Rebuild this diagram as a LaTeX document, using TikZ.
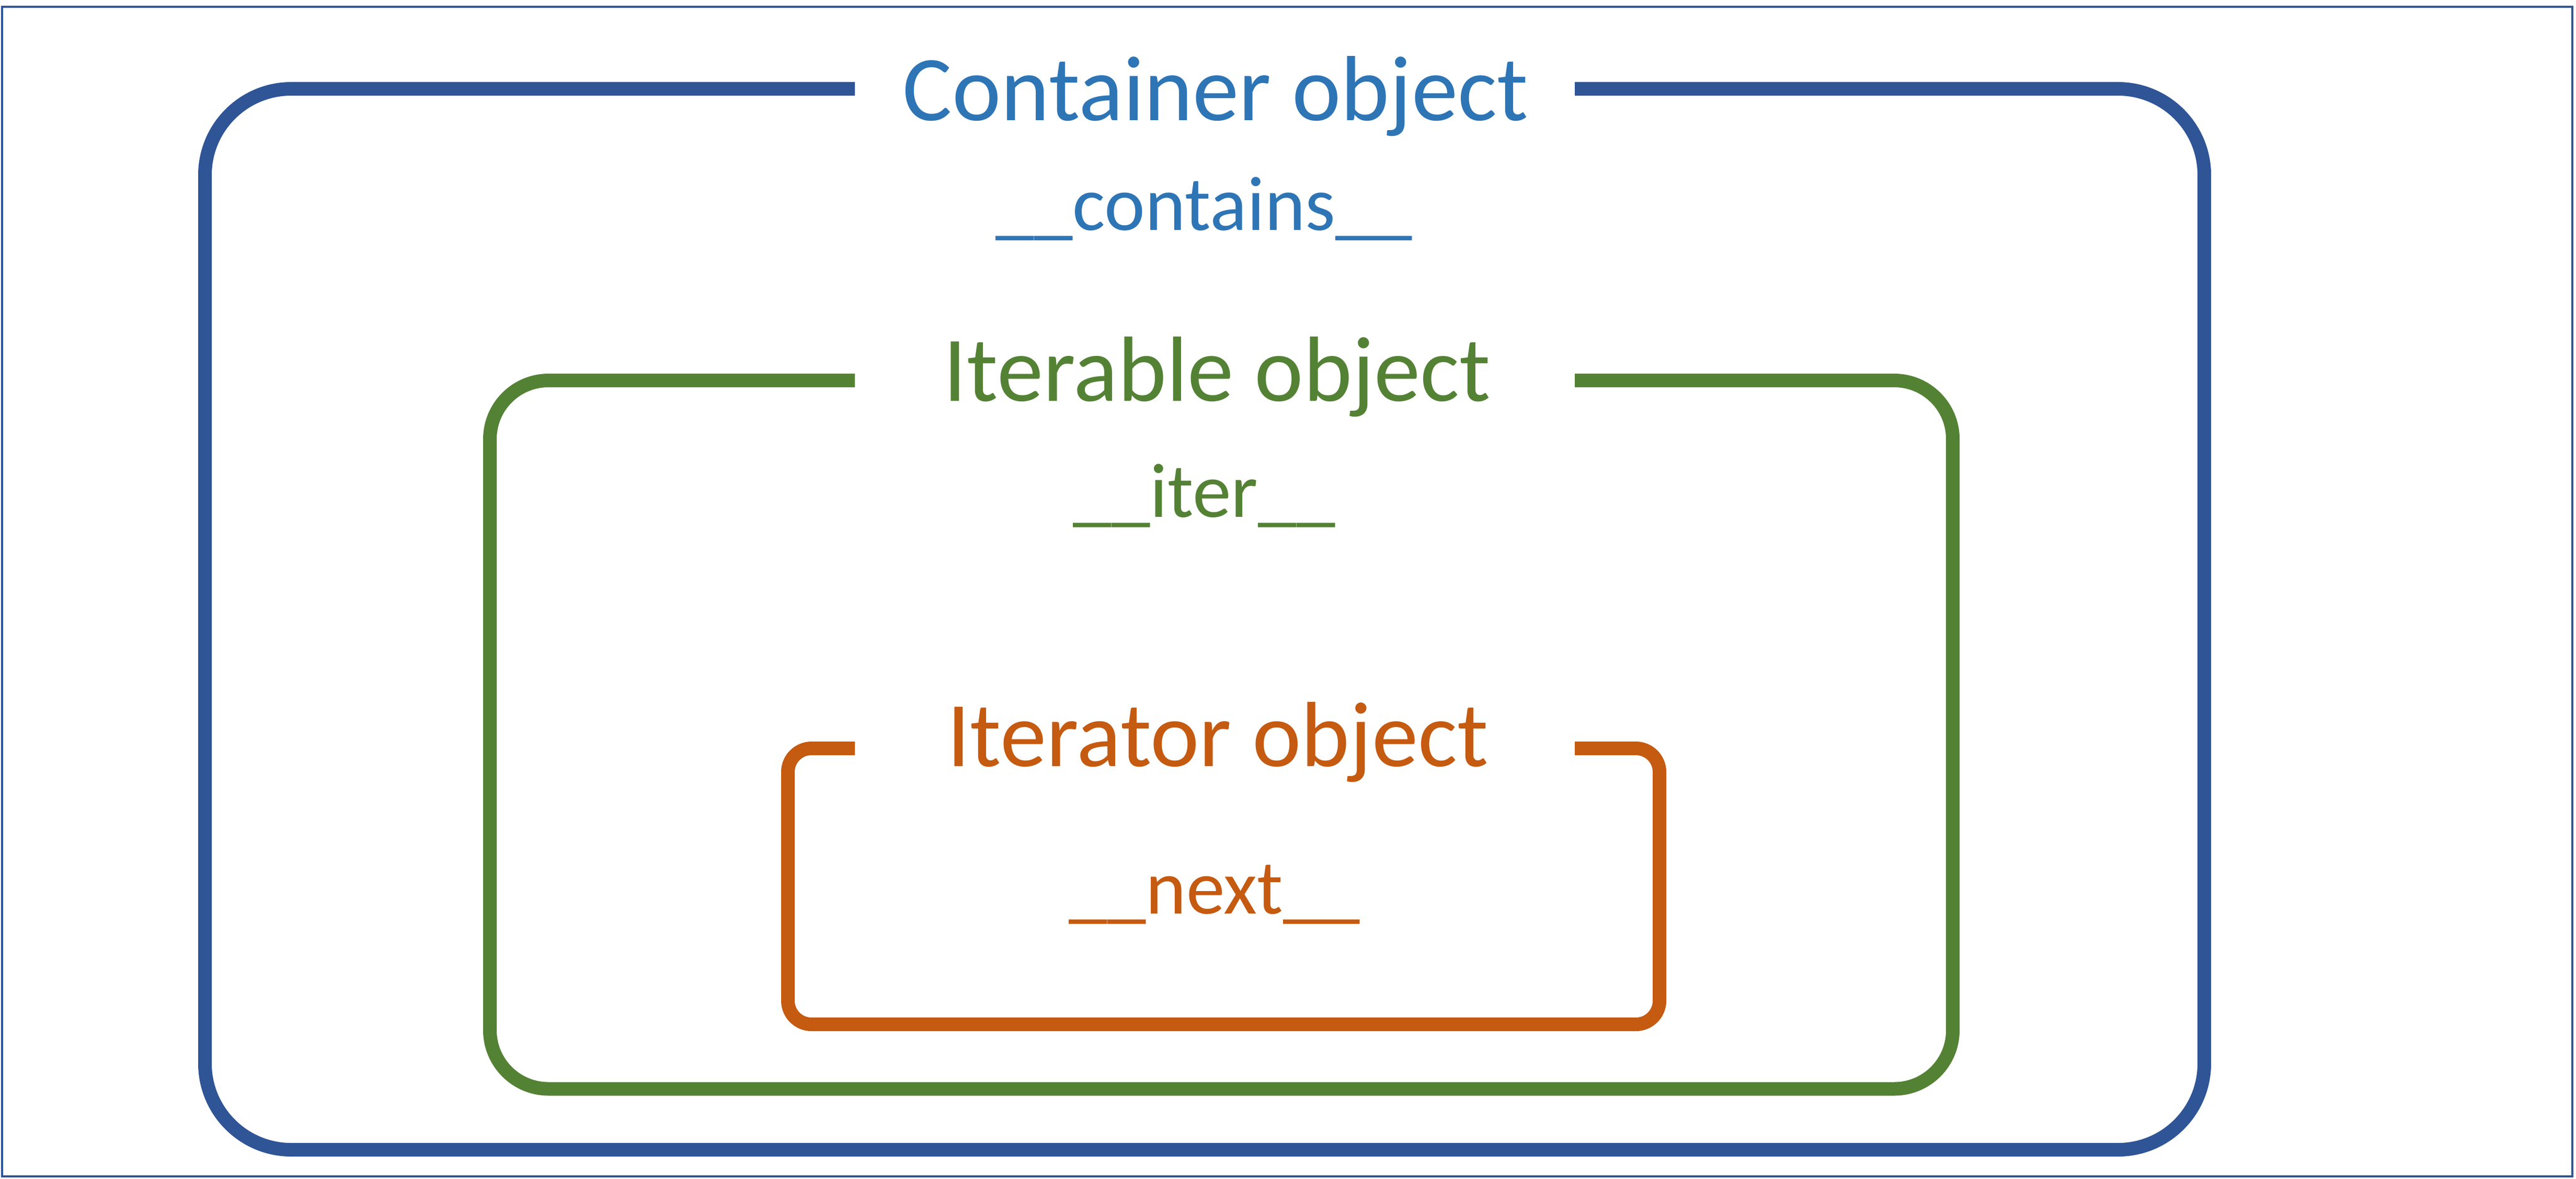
\documentclass[tikz,border=0pt]{standalone}
\usepackage{fontspec}
\setmainfont{Carlito}
\definecolor{frameblue}{HTML}{2F5597}
\definecolor{textblue}{HTML}{2E75B6}
\definecolor{itergreen}{HTML}{548235}
\definecolor{nextorange}{HTML}{C55A11}
\begin{document}
\begin{tikzpicture}[
  title/.style={anchor=base, inner sep=0pt, font=\fontsize{25.2}{30}\selectfont},
  method/.style={anchor=base, inner sep=0pt, font=\fontsize{21}{25}\selectfont},
  box/.style={line width=3.7pt, line cap=butt}
]
\useasboundingbox (0,0) rectangle (24.635,11.275);
\draw [frameblue, line width=0.6pt] (0.02,0.02) rectangle (24.6,11.21);

% open-topped frames, gap left for the titles
\draw [box, frameblue, rounded corners=0.825cm] (8.175,10.425) -- (1.96,10.425) -- (1.96,0.275) -- (21.08,0.275) -- (21.08,10.425) -- (15.06,10.425);
\draw [box, itergreen, rounded corners=0.56cm] (8.175,7.635) -- (4.685,7.635) -- (4.685,0.8575) -- (18.675,0.8575) -- (18.675,7.635) -- (15.06,7.635);
\draw [box, nextorange, rounded corners=0.225cm] (8.175,4.115) -- (7.535,4.115) -- (7.535,1.475) -- (15.87,1.475) -- (15.87,4.115) -- (15.06,4.115);

\node (container) [title, textblue] at (11.625,10.125) {Container object};
\node (contains) [method, textblue] at (11.515,9.075) {\_\_contains\_\_};
\node (iterable) [title, itergreen] at (11.64,7.44) {Iterable object};
\node (iter) [method, itergreen] at (11.515,6.33) {\_\_iter\_\_};
\node (iterator) [title, nextorange] at (11.645,3.945) {Iterator object};
\node (next) [method, nextorange] at (11.615,2.535) {\_\_next\_\_};
\end{tikzpicture}
\end{document}
